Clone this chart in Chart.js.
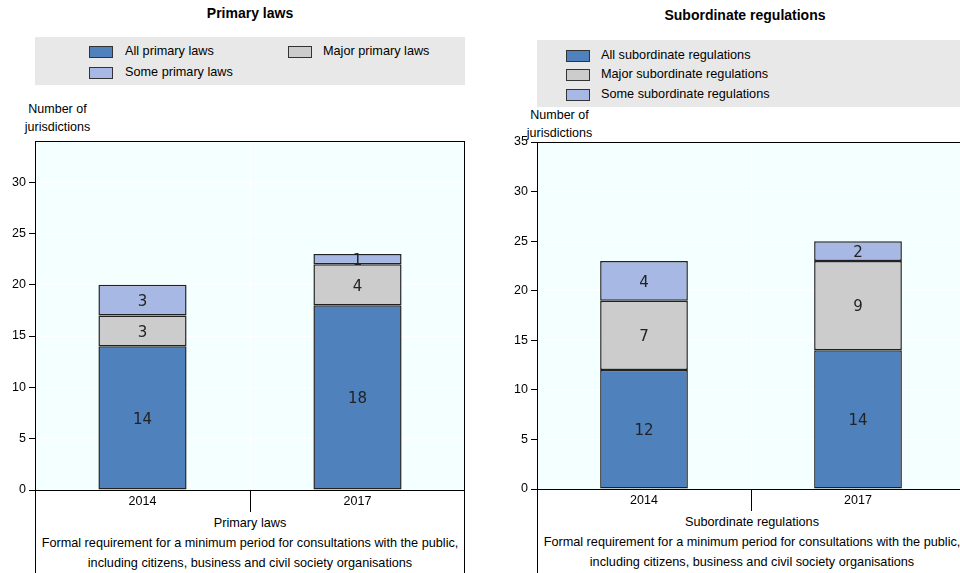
<!DOCTYPE html>
<html>
<head>
<meta charset="utf-8">
<script src="https://cdn.jsdelivr.net/npm/chart.js@4/dist/chart.umd.min.js"></script>
<style>
  html, body { margin: 0; padding: 0; background: #fff; overflow: hidden; }
  body { width: 960px; height: 573px; position: relative; font-family: "Liberation Sans", Arial, sans-serif; color: #000; }
  canvas { position: absolute; top: 0; }
  .t { position: absolute; font-size: 12.7px; white-space: nowrap; }
  .title { position: absolute; font-weight: bold; font-size: 14px; text-align: center; }
  .legend { position: absolute; background: #e8e8e8; }
  .sw { position: absolute; width: 22px; height: 10px; border: 1px solid #333; }
  .ylab { position: absolute; font-size: 12.5px; text-align: center; line-height: 18px; }
  .xdesc { position: absolute; font-size: 12.7px; text-align: center; line-height: 20px; white-space: nowrap; }
</style>
</head>
<body>

<div class="title" style="left:0; width:500px; top:5px;">Primary laws</div>
<div class="legend" style="left:35px; top:37px; width:430px; height:48px;"></div>
<div class="sw" style="left:89px; top:46px; background:#4f81bd;"></div>
<div class="t" style="left:125px; top:44px;">All primary laws</div>
<div class="sw" style="left:288px; top:46px; background:#cccccc;"></div>
<div class="t" style="left:323px; top:44px;">Major primary laws</div>
<div class="sw" style="left:89px; top:67px; background:#a6b8e3;"></div>
<div class="t" style="left:125px; top:65px;">Some primary laws</div>
<div class="ylab" style="left:10px; top:100px; width:95px;">Number of<br>jurisdictions</div>
<div class="xdesc" style="left:35px; top:513px; width:430px;">Primary laws<br>Formal requirement for a minimum period for consultations with the public,<br>including citizens, business and civil society organisations</div>

<div class="title" style="left:480px; width:530px; top:7px;">Subordinate regulations</div>
<div class="legend" style="left:537px; top:40px; width:430px; height:67px;"></div>
<div class="sw" style="left:566px; top:50px; background:#4f81bd;"></div>
<div class="t" style="left:601px; top:48px;">All subordinate regulations</div>
<div class="sw" style="left:566px; top:69px; background:#cccccc;"></div>
<div class="t" style="left:601px; top:67px;">Major subordinate regulations</div>
<div class="sw" style="left:566px; top:89px; background:#a6b8e3;"></div>
<div class="t" style="left:601px; top:87px;">Some subordinate regulations</div>
<div class="ylab" style="left:512px; top:106px; width:95px;">Number of<br>jurisdictions</div>
<div class="xdesc" style="left:537px; top:512px; width:430px;">Subordinate regulations<br>Formal requirement for a minimum period for consultations with the public,<br>including citizens, business and civil society organisations</div>

<canvas id="PrimaryChart" width="480" height="573" style="left:0;"></canvas>
<canvas id="SubordinateChart" width="500" height="573" style="left:480px;"></canvas>

<script>
var categories = ['2014', '2017'];

var primaryAll = [14, 18];
var primaryMajor = [3, 4];
var primarySome = [3, 1];

var subordinateAll = [12, 14];
var subordinateMajor = [7, 9];
var subordinateSome = [4, 2];

var colorAll = '#4f81bd';
var colorMajor = '#cccccc';
var colorSome = '#a6b8e3';

// fills the plot background, draws the frame and the lines below the axis
var framePlugin = {
    id: 'frame',
    beforeDraw: function (chart) {
        var a = chart.chartArea, ctx = chart.ctx;
        ctx.save();
        ctx.fillStyle = '#f4ffff';
        ctx.fillRect(a.left, a.top, a.right - a.left, a.bottom - a.top);
        ctx.restore();
    },
    afterDatasetsDraw: function (chart) {
        var a = chart.chartArea, ctx = chart.ctx, x = chart.scales.x;
        var mid = (x.getPixelForValue(0) + x.getPixelForValue(1)) / 2;
        ctx.save();
        ctx.strokeStyle = '#000';
        ctx.lineWidth = 1;
        ctx.strokeRect(a.left + 0.5, a.top + 0.5, a.right - a.left - 1, a.bottom - a.top);
        ctx.beginPath();
        ctx.moveTo(a.left + 0.5, a.bottom); ctx.lineTo(a.left + 0.5, chart.height);
        ctx.moveTo(a.right - 0.5, a.bottom); ctx.lineTo(a.right - 0.5, chart.height);
        ctx.moveTo(Math.round(mid) + 0.5, a.bottom); ctx.lineTo(Math.round(mid) + 0.5, a.bottom + 22);
        ctx.stroke();
        ctx.restore();
    }
};

// value labels in the middle of each segment
var valueLabels = {
    id: 'valueLabels',
    afterDatasetsDraw: function (chart) {
        var ctx = chart.ctx;
        ctx.save();
        ctx.font = '15px "DejaVu Sans", sans-serif';
        ctx.fillStyle = '#222';
        ctx.textAlign = 'center';
        ctx.textBaseline = 'middle';
        chart.data.datasets.forEach(function (ds, i) {
            chart.getDatasetMeta(i).data.forEach(function (bar, j) {
                ctx.fillText(ds.data[j], bar.x, (bar.y + bar.base) / 2 + 2);
            });
        });
        ctx.restore();
    }
};

function makeChart(id, all, major, some, yMax, yWidth, padTop, padRight, xHeight) {
    var ds = function (data, color) {
        return { data: data, backgroundColor: color, borderColor: '#222', borderWidth: 1.5, borderSkipped: false,
                 barPercentage: 0.41, categoryPercentage: 1 };
    };
    return new Chart(document.getElementById(id), {
        type: 'bar',
        data: {
            labels: categories,
            datasets: [ds(all, colorAll), ds(major, colorMajor), ds(some, colorSome)]
        },
        options: {
            responsive: false,
            animation: false,
            layout: { padding: { top: padTop, right: padRight, left: 0, bottom: 0 } },
            plugins: { legend: { display: false }, tooltip: { enabled: false } },
            scales: {
                x: {
                    stacked: true,
                    grid: { offset: true, color: '#ffffff', drawTicks: false },
                    border: { display: false },
                    ticks: { color: '#000', padding: 4, font: { family: 'Liberation Sans', size: 12.5 } },
                    afterFit: function (s) { s.height = xHeight; }
                },
                y: {
                    stacked: true,
                    min: 0,
                    max: yMax,
                    grid: { color: '#ffffff', tickColor: '#000', tickLength: 6 },
                    border: { display: false },
                    ticks: { stepSize: 5, color: '#000', padding: 3, font: { family: 'Liberation Sans', size: 12.5 } },
                    afterBuildTicks: function (s) {
                        s.ticks = s.ticks.filter(function (t) { return t.value % 5 === 0; });
                    },
                    afterFit: function (s) { s.width = yWidth; }
                }
            }
        },
        plugins: [framePlugin, valueLabels]
    });
}

makeChart('PrimaryChart', primaryAll, primaryMajor, primarySome, 34, 35, 141, 15, 83);
makeChart('SubordinateChart', subordinateAll, subordinateMajor, subordinateSome, 35, 57, 142, 15, 84);
</script>
</body>
</html>
